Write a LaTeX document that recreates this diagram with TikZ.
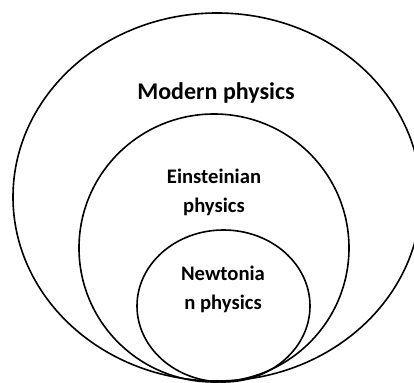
\documentclass[tikz,border=0pt]{standalone}
\usepackage{fontspec}
\setmainfont{Carlito}
\usepackage{tikz}
\usetikzlibrary{positioning}

\begin{document}
\begin{tikzpicture}[
    x=0.75pt, y=0.75pt,
    ring/.style={draw, line width=1.2pt},
    big/.style={font=\fontsize{18}{22}\selectfont\bfseries, inner sep=0pt},
    small/.style={font=\fontsize{15.5}{21.75}\selectfont\bfseries, align=center, inner sep=0pt}
]
\useasboundingbox (0,0) rectangle (414,382);
\clip (0,0) rectangle (414,382);

\draw[ring] (217,185) ellipse [x radius=204, y radius=184];
\draw[ring] (214,134) ellipse [x radius=135, y radius=134];
\draw[ring] (223.5,76) ellipse [x radius=86.5, y radius=76];

\node[big, anchor=base] (modern) at (216,282) {Modern physics};
\node[small, anchor=base] (einstein) at (214,169) {Einsteinian\\physics};
\node[small, anchor=base] (newton) at (223,72) {Newtonia\\n physics};
\end{tikzpicture}
\end{document}
